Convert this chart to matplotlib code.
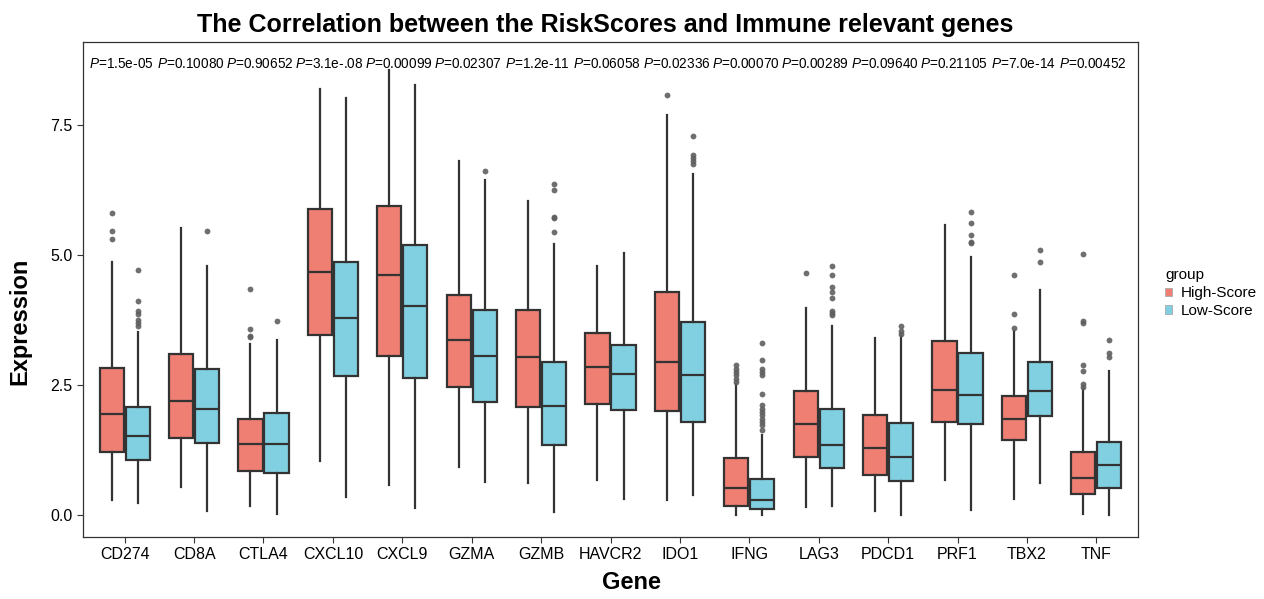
import matplotlib
matplotlib.use("Agg")
import matplotlib.pyplot as plt
from matplotlib.patches import Patch

genes = ["CD274", "CD8A", "CTLA4", "CXCL10", "CXCL9", "GZMA", "GZMB", "HAVCR2",
         "IDO1", "IFNG", "LAG3", "PDCD1", "PRF1", "TBX2", "TNF"]
p_labels = ["1.5e-05", "0.10080", "0.90652", "3.1e-.08", "0.00099", "0.02307", "1.2e-11",
            "0.06058", "0.02336", "0.00070", "0.00289", "0.09640", "0.21105", "7.0e-14", "0.00452"]

# High-Score group: whisker low, Q1, median, Q3, whisker high, outliers
high_wlo = [0.30, 0.54, 0.18, 1.04, 0.58, 0.93, 0.61, 0.67, 0.30, 0.00, 0.16, 0.08, 0.67, 0.32, 0.02]
high_q1 = [1.21, 1.48, 0.84, 3.47, 3.06, 2.46, 2.08, 2.14, 2.01, 0.17, 1.11, 0.77, 1.80, 1.45, 0.40]
high_med = [1.94, 2.19, 1.36, 4.68, 4.62, 3.37, 3.04, 2.85, 2.94, 0.53, 1.75, 1.30, 2.40, 1.85, 0.72]
high_q3 = [2.83, 3.10, 1.85, 5.88, 5.94, 4.24, 3.95, 3.50, 4.30, 1.09, 2.38, 1.92, 3.34, 2.30, 1.22]
high_whi = [4.86, 5.53, 3.29, 8.19, 8.57, 6.82, 6.04, 4.80, 7.69, 2.53, 3.98, 3.40, 5.58, 3.54, 2.43]
high_out = [
    [5.82, 5.47, 5.32], [], [4.34, 3.58, 3.45, 3.42], [], [], [], [], [],
    [8.09], [2.88, 2.81, 2.75, 2.69, 2.62, 2.56], [4.65], [], [],
    [4.62, 3.87, 3.59], [5.03, 3.74, 3.70, 2.88, 2.78, 2.53, 2.47],
]

# Low-Score group
low_wlo = [0.24, 0.08, 0.03, 0.35, 0.13, 0.64, 0.06, 0.32, 0.38, 0.00, 0.18, 0.01, 0.10, 0.61, 0.00]
low_q1 = [1.07, 1.39, 0.82, 2.67, 2.64, 2.18, 1.35, 2.03, 1.80, 0.11, 0.91, 0.65, 1.75, 1.91, 0.52]
low_med = [1.53, 2.04, 1.36, 3.79, 4.03, 3.06, 2.09, 2.72, 2.70, 0.29, 1.35, 1.11, 2.32, 2.38, 0.97]
low_q3 = [2.08, 2.81, 1.96, 4.86, 5.19, 3.95, 2.95, 3.27, 3.72, 0.69, 2.05, 1.77, 3.11, 2.94, 1.41]
low_whi = [3.52, 4.80, 3.36, 8.02, 8.28, 6.45, 5.22, 5.05, 6.57, 1.55, 3.63, 3.45, 4.96, 4.33, 2.77]
low_out = [
    [4.72, 4.12, 3.92, 3.87, 3.75, 3.69, 3.64], [5.47], [3.73], [], [], [6.62],
    [6.37, 6.25, 5.74, 5.71, 5.45], [], [7.30, 6.92, 6.86, 6.81, 6.76],
    [3.31, 2.99, 2.81, 2.75, 2.69, 2.33, 2.11, 2.05, 1.98, 1.92, 1.85, 1.79, 1.73, 1.64],
    [4.79, 4.62, 4.39, 4.29, 4.18, 3.93, 3.89, 3.84], [3.63, 3.54, 3.49],
    [5.83, 5.61, 5.38, 5.26, 5.23], [5.10, 4.86], [3.36, 3.11, 3.05],
]

group_names = ["High-Score", "Low-Score"]
group_colors = ["#EE7F72", "#81D0E1"]

plt.rcParams["font.family"] = ["Liberation Sans", "DejaVu Sans"]
plt.rcParams["mathtext.fontset"] = "custom"
plt.rcParams["mathtext.rm"] = "Liberation Sans"
plt.rcParams["mathtext.it"] = "Liberation Sans:italic"


def make_stats(wlo, q1, med, q3, whi, out):
    return [
        {"whislo": a, "q1": b, "med": c, "q3": d, "whishi": e, "fliers": f}
        for a, b, c, d, e, f in zip(wlo, q1, med, q3, whi, out)
    ]


fig = plt.figure(figsize=(12.64, 5.99), dpi=100)
ax = fig.add_axes([0.0657, 0.1035, 0.8346, 0.8264])

x = list(range(len(genes)))
offset = 0.1875
width = 0.35
stats_sets = [
    make_stats(high_wlo, high_q1, high_med, high_q3, high_whi, high_out),
    make_stats(low_wlo, low_q1, low_med, low_q3, low_whi, low_out),
]
for k, (stats, color) in enumerate(zip(stats_sets, group_colors)):
    pos = [xi + (k * 2 - 1) * offset for xi in x]
    ax.bxp(
        stats, positions=pos, widths=width, patch_artist=True, showcaps=False,
        boxprops=dict(facecolor=color, edgecolor="#333333", linewidth=1.6),
        medianprops=dict(color="#333333", linewidth=1.6),
        whiskerprops=dict(color="#333333", linewidth=1.6),
        flierprops=dict(marker="o", markerfacecolor="#5f5f5f", markeredgecolor="none",
                        markersize=4.2, alpha=0.9),
        manage_ticks=False,
    )

for xi, p in zip(x, p_labels):
    ax.text(xi - 0.05, 8.67, r"$\it{P}$=" + p, ha="center", va="center", fontsize=9.8,
            color="black")

ax.set_xlim(-0.6, len(genes) - 0.4)
ax.set_ylim(-0.42, 9.1)
ax.set_xticks(x)
ax.set_xticklabels(genes, fontsize=11.5, color="black")
ax.set_yticks([0.0, 2.5, 5.0, 7.5])
ax.set_yticklabels(["0.0", "2.5", "5.0", "7.5"], fontsize=11.5, color="black")
ax.tick_params(axis="both", length=4, width=0.8, color="#333333")
for s in ax.spines.values():
    s.set_color("#333333")
    s.set_linewidth(0.9)

ax.set_xlabel("Gene", fontsize=17, fontweight="bold")
ax.xaxis.set_label_coords(0.52, -0.069)
ax.set_ylabel("Expression", fontsize=17, fontweight="bold")
ax.yaxis.set_label_coords(-0.049, 0.436)
fig.text(0.479, 0.9466, "The Correlation between the RiskScores and Immune relevant genes",
         ha="center", va="baseline", fontsize=18, fontweight="bold")

handles = [Patch(facecolor=c, edgecolor="#aaaaaa", linewidth=0.6) for c in group_colors]
leg = fig.legend(handles, group_names, title="group", loc="upper left",
                 bbox_to_anchor=(0.911, 0.575), frameon=False, fontsize=11,
                 title_fontsize=11, handlelength=0.45, handleheight=0.45,
                 handletextpad=0.55, labelspacing=0.25, alignment="left")

fig.savefig("out.png", dpi=100)
